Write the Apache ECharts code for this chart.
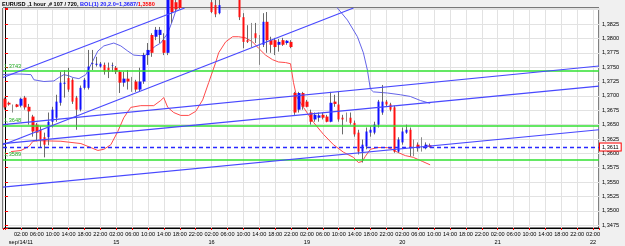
<!DOCTYPE html>
<html><head><meta charset="utf-8">
<script src="https://cdn.jsdelivr.net/npm/echarts@6/dist/echarts.min.js"></script>
<style>html,body{margin:0;padding:0;background:#f0f0f0}#c{width:625px;height:246px}</style>
</head><body><div id="c"></div>
<script>
// hourly candles, index 0 = sep/13 22:00 (weekend hours skipped)
const opens = [1.3695,1.3688,1.3681,1.3685,1.3683,1.3697,1.3681,1.3664,1.3650,1.3641,
1.3628,1.3628,1.3655,1.3662,1.3688,1.3721,1.3731,1.3728,1.3697,1.3676,
1.3714,1.3714,1.3756,1.3754,1.3751,1.3754,1.3749,1.3752,1.3749,1.3742,
1.3723,1.3730,1.3728,1.3725,1.3711,1.3725,1.3771,1.3806,1.3803,1.3806,
1.3797,1.3775,1.3867,1.3863,1.3870,1.3870,1.3885,1.3878,1.3892,1.3884,
1.3875,1.3880,1.3863,1.3858,1.3844,1.3858,1.3870,1.3876,1.3866,1.3867,
1.3837,1.3797,1.3809,1.3809,1.3792,1.3789,1.3829,1.3797,1.3797,1.3789,
1.3797,1.3792,1.3794,1.3705,1.3676,1.3705,1.3690,1.3671,1.3659,1.3662,
1.3667,1.3664,1.3655,1.3690,1.3685,1.3662,1.3662,1.3662,1.3653,1.3636,
1.3603,1.3612,1.3636,1.3636,1.3650,1.3671,1.3690,1.3685,1.3680,1.3603,
1.3619,1.3636,1.3641,1.3615,1.3615,1.3614,1.3610,1.3614];
const closes = [1.3680,1.3685,1.3681,1.3681,1.3695,1.3680,1.3673,1.3638,1.3636,1.3624,
1.3615,1.3655,1.3676,1.3690,1.3723,1.3723,1.3711,1.3690,1.3676,1.3714,
1.3728,1.3751,1.3757,1.3756,1.3756,1.3742,1.3742,1.3753,1.3742,1.3723,
1.3730,1.3725,1.3728,1.3711,1.3725,1.3771,1.3780,1.3775,1.3815,1.3815,
1.3775,1.3870,1.3846,1.3851,1.3853,1.3885,1.3878,1.3892,1.3884,1.3875,
1.3880,1.3872,1.3846,1.3842,1.3858,1.3870,1.3876,1.3866,1.3868,1.3837,
1.3794,1.3794,1.3809,1.3801,1.3792,1.3829,1.3797,1.3789,1.3785,1.3794,
1.3789,1.3796,1.3785,1.3671,1.3705,1.3681,1.3681,1.3655,1.3667,1.3666,
1.3662,1.3655,1.3688,1.3686,1.3659,1.3659,1.3662,1.3653,1.3633,1.3603,
1.3615,1.3638,1.3641,1.3650,1.3690,1.3690,1.3685,1.3676,1.3603,1.3624,
1.3638,1.3641,1.3610,1.3615,1.3610,1.3614,1.3615,1.3611];
const lows = [1.3676,1.3683,1.3671,1.3680,1.3680,1.3676,1.3650,1.3629,1.3621,1.3610,
1.3593,1.3614,1.3645,1.3655,1.3683,1.3697,1.3707,1.3686,1.3641,1.3673,
1.3711,1.3711,1.3745,1.3751,1.3749,1.3737,1.3731,1.3742,1.3738,1.3705,
1.3716,1.3711,1.3707,1.3707,1.3707,1.3721,1.3754,1.3768,1.3797,1.3792,
1.3771,1.3771,1.3827,1.3848,1.3851,1.3860,1.3870,1.3872,1.3876,1.3868,
1.3866,1.3862,1.3844,1.3837,1.3842,1.3855,1.3862,1.3858,1.3856,1.3832,
1.3783,1.3792,1.3785,1.3792,1.3754,1.3785,1.3775,1.3775,1.3771,1.3777,
1.3787,1.3789,1.3783,1.3667,1.3671,1.3676,1.3680,1.3650,1.3655,1.3655,
1.3659,1.3654,1.3654,1.3681,1.3655,1.3633,1.3655,1.3650,1.3629,1.3598,
1.3584,1.3607,1.3629,1.3633,1.3645,1.3667,1.3681,1.3673,1.3601,1.3601,
1.3615,1.3634,1.3595,1.3595,1.3603,1.3603,1.3607,1.3610];
const highs = [1.3697,1.3690,1.3685,1.3686,1.3697,1.3700,1.3686,1.3667,1.3653,1.3647,
1.3636,1.3671,1.3681,1.3702,1.3742,1.3745,1.3749,1.3731,1.3700,1.3718,
1.3731,1.3780,1.3780,1.3768,1.3759,1.3758,1.3758,1.3758,1.3752,1.3745,
1.3742,1.3745,1.3733,1.3728,1.3749,1.3775,1.3792,1.3809,1.3820,1.3820,
1.3809,1.3881,1.3875,1.3875,1.3881,1.3890,1.3895,1.3900,1.3898,1.3890,
1.3887,1.3884,1.3875,1.3867,1.3870,1.3878,1.3884,1.3880,1.3875,1.3875,
1.3844,1.3823,1.3827,1.3827,1.3806,1.3844,1.3846,1.3803,1.3801,1.3799,
1.3801,1.3797,1.3797,1.3707,1.3707,1.3707,1.3693,1.3676,1.3671,1.3671,
1.3671,1.3667,1.3707,1.3702,1.3707,1.3667,1.3671,1.3671,1.3657,1.3641,
1.3624,1.3645,1.3647,1.3655,1.3693,1.3719,1.3693,1.3688,1.3683,1.3628,
1.3645,1.3650,1.3645,1.3624,1.3619,1.3628,1.3619,1.3617];

// Bollinger (20, 2.0) upper band and lower curve, [slot, price]
const bandUpper = [[-0.5,1.3737],[1.51,1.3738],[4.02,1.3738],[6.54,1.3737],[7.29,1.3728],[9.80,1.3725],
[12.31,1.3726],[13.57,1.3732],[14.83,1.3737],[16.08,1.3735],[17.09,1.3732],[18.60,1.3730],[20.35,1.3737],
[21.61,1.3754],[23.37,1.3778],[24.88,1.3787],[27.39,1.3792],[29.15,1.3787],[30.91,1.3778],[32.42,1.3771],
[34.17,1.3770],[35.43,1.3771],[36.69,1.3780],[37.94,1.3787],[39.20,1.3792],[40.96,1.3809],[42.21,1.3832],
[43.47,1.3858],[45.48,1.3884],[49.25,1.3910],[56.79,1.3919],[64.33,1.3919],[71.86,1.3915],[79.40,1.3893],
[81.91,1.3867],[83.67,1.3853],[86.18,1.3832],[88.70,1.3803],[90.20,1.3775],[91.21,1.3745],[91.96,1.3712],
[92.72,1.3707],[96.24,1.3705],[99.50,1.3702],[102.01,1.3699],[104.53,1.3692],[107,1.3687]];
const bandLower = [[1.51,1.3603],[4.02,1.3605],[6.03,1.3612],[7.04,1.3621],[8.55,1.3622],[14.07,1.3621],
[19.10,1.3617],[21.61,1.3610],[23.37,1.3605],[24.88,1.3607],[26.64,1.3615],[28.39,1.3638],[29.90,1.3662],
[31.66,1.3680],[34.17,1.3683],[37.44,1.3683],[39.20,1.3692],[39.95,1.3697],[40.96,1.3680],[42.47,1.3671],
[44.22,1.3666],[46.23,1.3666],[47.99,1.3673],[49.75,1.3693],[51.26,1.3723],[53.02,1.3758],[53.77,1.3775],
[55.53,1.3794],[57.29,1.3803],[58.80,1.3803],[60.56,1.3801],[62.32,1.3794],[63.82,1.3783],[65.58,1.3771],
[67.34,1.3763],[68.85,1.3759],[70.61,1.3758],[71.86,1.3756],[72.62,1.3723],[73.37,1.3699],[75.13,1.3680],
[77.64,1.3654],[80.15,1.3633],[82.67,1.3615],[85.18,1.3602],[87.69,1.3593],[88.95,1.3584],[89.95,1.3586],
[90.71,1.3595],[91.96,1.3607],[93.72,1.3610],[96.24,1.3610],[97.49,1.3607],[98.75,1.3602],[100.76,1.3596],
[102.77,1.3593],[105.03,1.3586],[107,1.3580]];

// hand-drawn trend lines, two [slot, price] ends each
const trendLines = [
  [[-0.5,1.3732],[45.2,1.3853]],
  [[-0.5,1.3615],[87.7,1.3853]],
  [[-0.5,1.3541],[149.5,1.3641]],
  [[-0.5,1.3650],[149.5,1.3752]],
  [[-0.5,1.3617],[149.5,1.3717]]
];
const levels = [1.3743, 1.3648, 1.3589];
const lastPrice = 1.3611;
const bolUpper = 1.3687, bolLower = 1.3580;
const hourLabels = ['22:00','02:00','06:00','10:00','14:00','18:00'];
const dayLabels = ['sep/14/11','15','16','19','20','21','22'];
const slotCount = 150;

const FONT = 'Liberation Sans';
const FS = 5.6;
const fmt = v => v.toFixed(4).replace('.', ',');
const slots = Array.from({length: slotCount}, (_, i) => 's' + i);

const wickData = opens.map((o, i) => [o, closes[i], lows[i], highs[i]]);
const bodyData = opens.map((o, i) => [o, closes[i], Math.min(o, closes[i]), Math.max(o, closes[i])]);

const chart = echarts.init(document.getElementById('c'), null, {renderer: 'canvas'});
const series = [
  {type: 'candlestick', xAxisIndex: 0, yAxisIndex: 0, data: wickData, barWidth: 1, z: 3,
   itemStyle: {color: '#6a6a6a', color0: '#6a6a6a', borderColor: '#6a6a6a', borderColor0: '#6a6a6a', borderColorDoji: '#8a8a8a', borderWidth: 1}},
  {type: 'candlestick', xAxisIndex: 0, yAxisIndex: 0, data: bodyData, barWidth: 3, z: 4,
   itemStyle: {color: '#1010ff', color0: '#ff1010', borderColor: '#1010ff', borderColor0: '#ff1010', borderWidth: 0}},
  {type: 'line', xAxisIndex: 1, yAxisIndex: 0, data: bandUpper, showSymbol: false, z: 2,
   lineStyle: {color: '#6464e8', width: 1},
   markLine: {silent: true, symbol: ['none', 'none'], animation: false, precision: 4,
     data: levels.map(v => ({yAxis: v, lineStyle: {color: '#30e030', type: 'solid', width: 1.5, opacity: 1},
        label: {show: true, position: 'insideStartTop', formatter: fmt(v), color: '#22aa22', fontSize: FS, fontFamily: FONT, distance: [1, 2]}}))
       .concat([{yAxis: lastPrice, lineStyle: {color: '#2828ff', type: [4, 3], width: 1.4, opacity: 1},
        label: {show: true, position: 'end', formatter: fmt(lastPrice), color: '#000', fontSize: FS, fontFamily: FONT,
          backgroundColor: '#fff', borderColor: '#ff0000', borderWidth: 1, padding: [1, 2, 0, 2], distance: 1}}])}},
  {type: 'line', xAxisIndex: 1, yAxisIndex: 0, data: bandLower, showSymbol: false, z: 2,
   lineStyle: {color: '#ff4a4a', width: 1}}
];
trendLines.forEach(t => series.push({type: 'line', xAxisIndex: 1, yAxisIndex: 0, data: t, showSymbol: false, z: 5,
  lineStyle: {color: '#4848ff', width: 1.2}}));

chart.setOption({
  animation: false,
  backgroundColor: '#f0f0f0',
  title: {
    text: '{k|EURUSD ,1 hour ,# 107 / 720,} {b|BOL(1) 20,2.0=' + fmt(bolUpper) + '/}{r|' + fmt(bolLower) + '}',
    left: 2, top: 1, padding: 0,
    textStyle: {fontSize: FS, fontFamily: FONT, rich: {
      k: {color: '#000', fontSize: FS, fontFamily: FONT},
      b: {color: '#2020ff', fontSize: FS, fontFamily: FONT},
      r: {color: '#ff0000', fontSize: FS, fontFamily: FONT}}}
  },
  grid: {left: 2, right: 26, top: 8, bottom: 17, show: true, backgroundColor: '#fff', borderColor: '#000', borderWidth: 1, containLabel: false},
  xAxis: [
    {type: 'category', data: slots, boundaryGap: true, show: false, position: 'bottom'},
    {type: 'value', min: -0.5, max: slotCount - 0.5, minInterval: 4, maxInterval: 4, position: 'bottom',
     axisLine: {show: true, lineStyle: {color: '#000'}},
     axisTick: {show: true, length: 2, lineStyle: {color: '#ff0000'}},
     splitLine: {show: true, lineStyle: {color: '#e2e2e2', width: 1}},
     axisLabel: {show: true, margin: 2, color: '#000', fontSize: FS, fontFamily: FONT, lineHeight: 8,
       formatter: function (v) {
         const i = Math.round(v);
         if (Math.abs(v - i) > 1e-6 || i < 4 || i % 4 !== 0) return '';
         const t = hourLabels[(i / 4) % 6];
         if ((i - 4) % 24 === 0) return '{t|' + t + '}\n{d|' + dayLabels[(i - 4) / 24] + '}';
         return '{t|' + t + '}';
       },
       rich: {t: {fontSize: FS, fontFamily: FONT, color: '#000', lineHeight: 8}, d: {fontSize: FS, fontFamily: FONT, color: '#000', lineHeight: 8}}}}
  ],
  yAxis: [{type: 'value', position: 'right', min: 1.3470, max: 1.3853, minInterval: 0.0025, maxInterval: 0.0025, scale: true,
    axisLine: {show: true, lineStyle: {color: '#000'}},
    axisTick: {show: true, length: 3, lineStyle: {color: '#ff0000'}},
    splitLine: {show: true, lineStyle: {color: '#e2e2e2', width: 1}},
    axisLabel: {show: true, margin: 3, color: '#000', fontSize: FS, fontFamily: FONT,
      formatter: function (v) {
        const k = v / 0.0025;
        if (Math.abs(k - Math.round(k)) > 1e-6 || v > 1.3826) return '';
        return fmt(v);
      }}}],
  series: series
});
</script></body></html>
